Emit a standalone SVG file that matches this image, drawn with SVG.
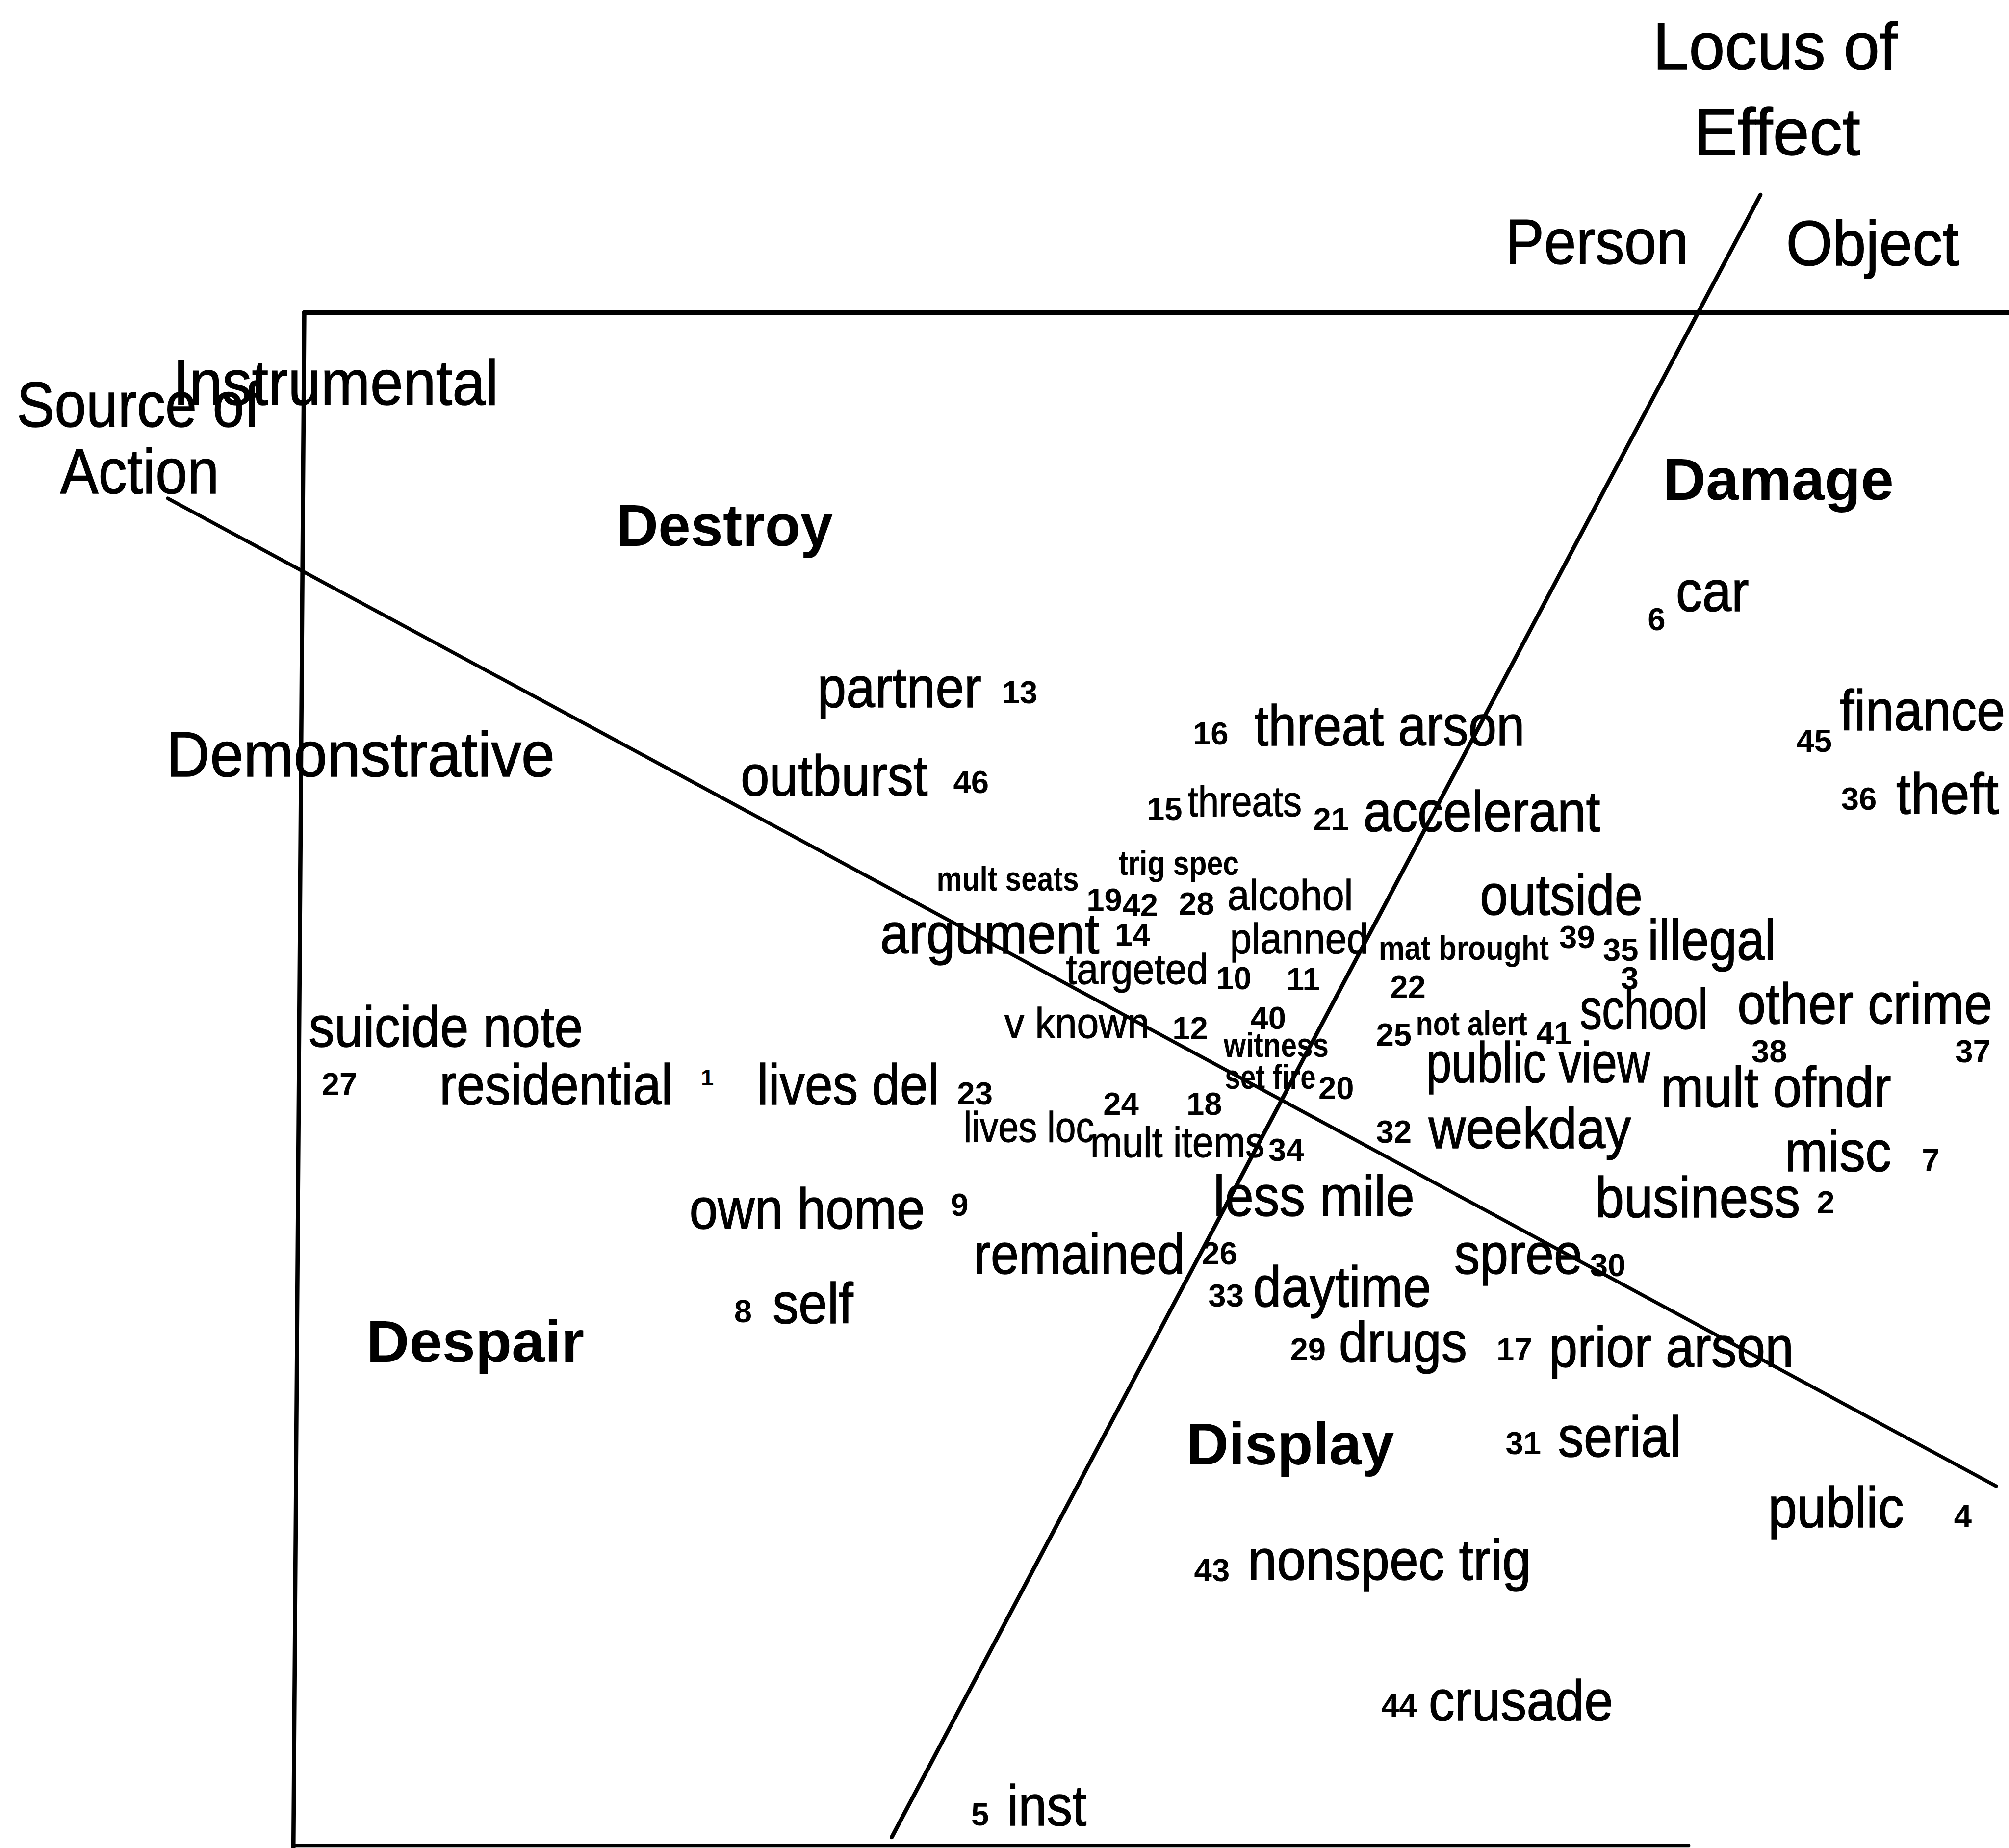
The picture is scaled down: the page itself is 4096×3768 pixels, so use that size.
<svg xmlns="http://www.w3.org/2000/svg" width="4096" height="3768" viewBox="0 0 4096 3768">
<style>
text{font-family:"Liberation Sans",Arial,Helvetica,sans-serif;fill:#000}
.ttl{font-size:52px;stroke:#000;stroke-width:0.6px}
.ax{font-size:50px;stroke:#000;stroke-width:0.6px}
.cat{font-size:46px;font-weight:bold}
.lab{font-size:45px;stroke:#000;stroke-width:0.6px}
.med{font-size:33px;stroke:#000;stroke-width:0.5px}
.sm{font-size:27px;font-weight:bold}
.num{font-size:25px;font-weight:bold}
.ln{stroke:#000;fill:none;stroke-linecap:round}
</style>
<rect width="4096" height="3768" fill="#fff"/>
<g transform="scale(2.6122449)">
<g id="axes">
<line class="ln" x1="237.5" y1="244" x2="1568" y2="244" stroke-width="3.6"/>
<line class="ln" x1="237.5" y1="244" x2="229" y2="1442" stroke-width="3.3"/>
<line class="ln" x1="229" y1="1440.5" x2="1318" y2="1440.5" stroke-width="2.6"/>
<line class="ln" x1="1374" y1="152" x2="696" y2="1434" stroke-width="3.2"/>
<line class="ln" x1="131" y1="389" x2="1558" y2="1160" stroke-width="2.8"/>
</g>
<g id="axis-labels">
<g id="locus"><text class="ttl" x="1290" y="54" textLength="191" lengthAdjust="spacingAndGlyphs">Locus of</text><text class="ttl" x="1322" y="121" textLength="130" lengthAdjust="spacingAndGlyphs">Effect</text></g>
<g id="person"><text class="ax" x="1175" y="206" textLength="143" lengthAdjust="spacingAndGlyphs">Person</text></g>
<g id="object"><text class="ax" x="1394" y="207" textLength="135" lengthAdjust="spacingAndGlyphs">Object</text></g>
<g id="source"><text class="ax" x="13" y="333" textLength="190" lengthAdjust="spacingAndGlyphs">Source of</text><text class="ax" x="47" y="385" textLength="124" lengthAdjust="spacingAndGlyphs">Action</text></g>
<g id="instrumental"><text class="ax" x="135" y="316" textLength="254" lengthAdjust="spacingAndGlyphs">Instrumental</text></g>
<g id="demonstrative"><text class="ax" x="130" y="606" textLength="303" lengthAdjust="spacingAndGlyphs">Demonstrative</text></g>
<g id="destroy"><text class="cat" x="481" y="426" textLength="169" lengthAdjust="spacingAndGlyphs">Destroy</text></g>
<g id="damage"><text class="cat" x="1298" y="390" textLength="180" lengthAdjust="spacingAndGlyphs">Damage</text></g>
<g id="despair"><text class="cat" x="286" y="1063" textLength="170" lengthAdjust="spacingAndGlyphs">Despair</text></g>
<g id="display"><text class="cat" x="926" y="1143" textLength="162" lengthAdjust="spacingAndGlyphs">Display</text></g>
</g>
<g id="items">
<g id="v1"><text class="lab" x="343" y="862" textLength="182" lengthAdjust="spacingAndGlyphs">residential</text><text class="num" x="547" y="847" style="font-size:18px">1</text></g>
<g id="v2"><text class="lab" x="1245" y="950" textLength="160" lengthAdjust="spacingAndGlyphs">business</text><text class="num" x="1418" y="947">2</text></g>
<g id="v3"><text class="lab" x="1233" y="803" textLength="100" lengthAdjust="spacingAndGlyphs">school</text><text class="num" x="1265" y="772">3</text></g>
<g id="v4"><text class="lab" x="1380" y="1192" textLength="106" lengthAdjust="spacingAndGlyphs">public</text><text class="num" x="1525" y="1192">4</text></g>
<g id="v5"><text class="num" x="758" y="1425">5</text><text class="lab" x="786" y="1425" textLength="62" lengthAdjust="spacingAndGlyphs">inst</text></g>
<g id="v6"><text class="num" x="1286" y="492">6</text><text class="lab" x="1308" y="477" textLength="57" lengthAdjust="spacingAndGlyphs">car</text></g>
<g id="v7"><text class="lab" x="1393" y="914" textLength="83" lengthAdjust="spacingAndGlyphs">misc</text><text class="num" x="1500" y="914">7</text></g>
<g id="v8"><text class="num" x="573" y="1032">8</text><text class="lab" x="603" y="1033" textLength="63" lengthAdjust="spacingAndGlyphs">self</text></g>
<g id="v9"><text class="lab" x="538" y="959" textLength="184" lengthAdjust="spacingAndGlyphs">own home</text><text class="num" x="742" y="949">9</text></g>
<g id="v10"><text class="med" x="832" y="768" textLength="111" lengthAdjust="spacingAndGlyphs">targeted</text><text class="num" x="949" y="772">10</text></g>
<g id="v11"><text class="med" x="960" y="744" textLength="108" lengthAdjust="spacingAndGlyphs">planned</text><text class="num" x="1004" y="773">11</text></g>
<g id="v12"><text class="med" x="784" y="810" textLength="113" lengthAdjust="spacingAndGlyphs">v known</text><text class="num" x="915" y="811">12</text></g>
<g id="v13"><text class="lab" x="638" y="552" textLength="128" lengthAdjust="spacingAndGlyphs">partner</text><text class="num" x="782" y="549">13</text></g>
<g id="v14"><text class="lab" x="687" y="744" textLength="171" lengthAdjust="spacingAndGlyphs">argument</text><text class="num" x="870" y="738">14</text></g>
<g id="v15"><text class="num" x="895" y="640">15</text><text class="med" x="927" y="637" textLength="89" lengthAdjust="spacingAndGlyphs">threats</text></g>
<g id="v16"><text class="num" x="931" y="581">16</text><text class="lab" x="979" y="582" textLength="211" lengthAdjust="spacingAndGlyphs">threat arson</text></g>
<g id="v17"><text class="num" x="1168" y="1062">17</text><text class="lab" x="1209" y="1067" textLength="191" lengthAdjust="spacingAndGlyphs">prior arson</text></g>
<g id="v18"><text class="num" x="926" y="870">18</text></g>
<g id="v19"><text class="sm" x="731" y="695" textLength="111" lengthAdjust="spacingAndGlyphs">mult seats</text><text class="num" x="848" y="711">19</text></g>
<g id="v20"><text class="sm" x="956" y="850" textLength="71" lengthAdjust="spacingAndGlyphs">set fire</text><text class="num" x="1029" y="858">20</text></g>
<g id="v21"><text class="num" x="1025" y="648">21</text><text class="lab" x="1064" y="649" textLength="185" lengthAdjust="spacingAndGlyphs">accelerant</text></g>
<g id="v22"><text class="sm" x="1076" y="749" textLength="133" lengthAdjust="spacingAndGlyphs">mat brought</text><text class="num" x="1085" y="779">22</text></g>
<g id="v23"><text class="lab" x="591" y="862" textLength="142" lengthAdjust="spacingAndGlyphs">lives del</text><text class="num" x="747" y="862">23</text></g>
<g id="v24"><text class="med" x="752" y="891" textLength="102" lengthAdjust="spacingAndGlyphs">lives loc</text><text class="num" x="861" y="870">24</text></g>
<g id="v25"><text class="num" x="1074" y="816">25</text><text class="sm" x="1105" y="808" textLength="87" lengthAdjust="spacingAndGlyphs">not alert</text></g>
<g id="v26"><text class="lab" x="760" y="994" textLength="165" lengthAdjust="spacingAndGlyphs">remained</text><text class="num" x="938" y="987">26</text></g>
<g id="v27"><text class="lab" x="241" y="817" textLength="214" lengthAdjust="spacingAndGlyphs">suicide note</text><text class="num" x="251" y="855">27</text></g>
<g id="v28"><text class="num" x="920" y="714">28</text><text class="med" x="958" y="710" textLength="98" lengthAdjust="spacingAndGlyphs">alcohol</text></g>
<g id="v29"><text class="num" x="1007" y="1062">29</text><text class="lab" x="1045" y="1063" textLength="100" lengthAdjust="spacingAndGlyphs">drugs</text></g>
<g id="v30"><text class="lab" x="1135" y="994" textLength="100" lengthAdjust="spacingAndGlyphs">spree</text><text class="num" x="1241" y="996">30</text></g>
<g id="v31"><text class="num" x="1175" y="1135">31</text><text class="lab" x="1216" y="1137" textLength="96" lengthAdjust="spacingAndGlyphs">serial</text></g>
<g id="v32"><text class="num" x="1074" y="892">32</text><text class="lab" x="1115" y="896" textLength="158" lengthAdjust="spacingAndGlyphs">weekday</text></g>
<g id="v33"><text class="num" x="943" y="1020">33</text><text class="lab" x="978" y="1020" textLength="139" lengthAdjust="spacingAndGlyphs">daytime</text></g>
<g id="v34"><text class="med" x="851" y="903" textLength="136" lengthAdjust="spacingAndGlyphs">mult items</text><text class="num" x="990" y="906">34</text><text class="lab" x="947" y="949" textLength="157" lengthAdjust="spacingAndGlyphs">less mile</text></g>
<g id="v35"><text class="num" x="1251" y="750">35</text><text class="lab" x="1286" y="749" textLength="100" lengthAdjust="spacingAndGlyphs">illegal</text></g>
<g id="v36"><text class="num" x="1437" y="632">36</text><text class="lab" x="1480" y="635" textLength="80" lengthAdjust="spacingAndGlyphs">theft</text></g>
<g id="v37"><text class="lab" x="1356" y="799" textLength="199" lengthAdjust="spacingAndGlyphs">other crime</text><text class="num" x="1526" y="829">37</text></g>
<g id="v38"><text class="num" x="1367" y="829">38</text><text class="lab" x="1296" y="864" textLength="180" lengthAdjust="spacingAndGlyphs">mult ofndr</text></g>
<g id="v39"><text class="lab" x="1155" y="714" textLength="127" lengthAdjust="spacingAndGlyphs">outside</text><text class="num" x="1217" y="740">39</text></g>
<g id="v40"><text class="num" x="976" y="803">40</text><text class="sm" x="955" y="825" textLength="82" lengthAdjust="spacingAndGlyphs">witness</text></g>
<g id="v41"><text class="num" x="1199" y="815">41</text><text class="lab" x="1113" y="845" textLength="175" lengthAdjust="spacingAndGlyphs">public view</text></g>
<g id="v42"><text class="sm" x="873" y="683" textLength="94" lengthAdjust="spacingAndGlyphs">trig spec</text><text class="num" x="876" y="715">42</text></g>
<g id="v43"><text class="num" x="932" y="1234">43</text><text class="lab" x="974" y="1233" textLength="221" lengthAdjust="spacingAndGlyphs">nonspec trig</text></g>
<g id="v44"><text class="num" x="1078" y="1340">44</text><text class="lab" x="1115" y="1343" textLength="144" lengthAdjust="spacingAndGlyphs">crusade</text></g>
<g id="v45"><text class="num" x="1402" y="587">45</text><text class="lab" x="1436" y="570" textLength="129" lengthAdjust="spacingAndGlyphs">finance</text></g>
<g id="v46"><text class="lab" x="578" y="621" textLength="146" lengthAdjust="spacingAndGlyphs">outburst</text><text class="num" x="744" y="619">46</text></g>
</g>
</g>
</svg>
